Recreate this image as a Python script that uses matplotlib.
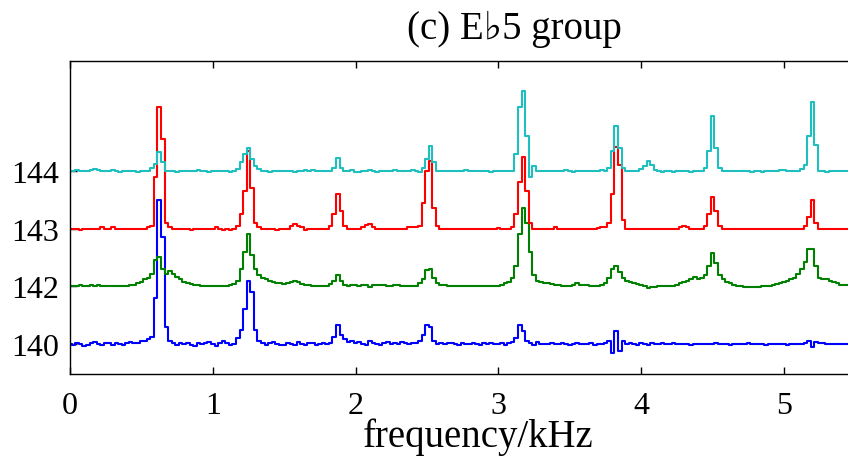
import numpy as np
import matplotlib
matplotlib.use("Agg")
import matplotlib.pyplot as plt

df = 0.025

blue = [0.00, -0.02, 0.01, 0.00, -0.03, -0.02, 0.02, 0.03, 0.00, -0.02,
        0.01, 0.02, -0.01, 0.02, 0.00, -0.02, 0.01, 0.03, 0.01, 0.02,
        0.06, 0.05, 0.08, 0.12, 0.80, 2.50, 1.85, 0.30, 0.05, 0.02,
        -0.01, 0.02, 0.00, 0.01, -0.01, -0.03, 0.01, 0.00, 0.02, 0.04,
        0.00, -0.03, 0.01, 0.05, 0.02, -0.02, 0.00, 0.10, 0.25, 0.60,
        1.10, 0.90, 0.25, 0.05, 0.02, -0.01, 0.01, 0.03, 0.00, -0.02,
        -0.02, 0.01, 0.00, -0.01, 0.03, 0.00, -0.02, 0.01, 0.02, -0.01,
        0.00, 0.01, 0.00, 0.02, 0.12, 0.33, 0.15, 0.08, 0.04, 0.06,
        0.01, 0.04, 0.00, -0.02, 0.05, 0.02, 0.00, -0.01, 0.01, 0.03,
        0.00, 0.02, 0.00, 0.03, 0.02, 0.00, 0.01, 0.02, 0.05, 0.15,
        0.33, 0.30, 0.05, 0.00, 0.01, 0.00, 0.02, 0.01, 0.00, -0.01,
        0.01, 0.00, 0.00, 0.01, 0.00, -0.01, 0.02, 0.00, 0.01, 0.00,
        0.00, 0.02, -0.01, 0.01, 0.03, 0.10, 0.33, 0.22, 0.05, 0.02,
        -0.01, 0.03, 0.00, 0.00, 0.00, 0.01, 0.00, 0.00, 0.01, 0.00,
        -0.01, 0.00, 0.02, 0.00, 0.00, 0.00, 0.01, -0.01, 0.00, 0.00,
        0.02, 0.05, -0.15, 0.22, -0.12, 0.05, 0.00, 0.01, 0.00, -0.02,
        0.01, 0.00, -0.02, 0.01, 0.00, 0.00, 0.02, 0.00, 0.00, 0.01,
        0.00, 0.00, 0.00, 0.00, -0.01, 0.00, 0.00, 0.00, 0.00, 0.00,
        0.00, 0.01, 0.00, 0.00, 0.00, -0.01, 0.00, 0.00, 0.00, 0.00,
        0.01, 0.00, 0.00, 0.00, 0.00, -0.01, 0.00, 0.00, 0.00, 0.00,
        0.00, -0.01, 0.00, 0.00, 0.00, 0.00, 0.01, 0.06, -0.06, 0.03,
        0.01, 0.02, 0.00, 0.00, 0.00, 0.00, 0.00, 0.00, 0.00, 0.00]

green = [0.00, 0.00, 0.00, 0.02, 0.00, 0.01, 0.03, 0.00, 0.02, 0.01,
         0.00, 0.00, 0.00, 0.00, 0.00, 0.00, 0.00, 0.02, 0.03, 0.05,
         0.08, 0.12, 0.15, 0.22, 0.45, 0.50, 0.30, 0.22, 0.26, 0.22,
         0.16, 0.12, 0.08, 0.06, 0.04, 0.02, 0.03, 0.01, 0.00, 0.01,
         0.00, 0.00, 0.00, 0.00, 0.00, 0.02, 0.04, 0.10, 0.30, 0.60,
         0.90, 0.55, 0.30, 0.20, 0.15, 0.12, 0.10, 0.08, 0.06, 0.06,
         0.04, 0.05, 0.08, 0.10, 0.07, 0.04, 0.03, 0.02, 0.01, 0.01,
         0.00, 0.01, 0.00, 0.04, 0.10, 0.19, 0.10, 0.03, 0.00, 0.02,
         0.03, 0.01, 0.02, 0.02, -0.01, 0.03, 0.03, 0.02, 0.02, 0.01,
         0.01, 0.02, 0.02, 0.01, 0.00, 0.00, 0.00, 0.01, 0.05, 0.12,
         0.28, 0.30, 0.15, 0.06, 0.03, 0.02, 0.01, 0.01, 0.00, 0.00,
         0.00, 0.00, 0.00, 0.00, 0.00, 0.00, 0.00, 0.00, 0.00, 0.00,
         0.01, 0.03, 0.05, 0.08, 0.15, 0.35, 0.90, 1.35, 1.10, 0.60,
         0.20, 0.10, 0.07, 0.05, 0.05, 0.04, 0.03, 0.02, 0.01, 0.00,
         0.00, 0.02, 0.05, 0.02, 0.03, 0.03, 0.00, 0.00, 0.00, 0.02,
         0.05, 0.15, 0.30, 0.36, 0.25, 0.15, 0.10, 0.08, 0.06, 0.04,
         0.02, 0.00, -0.03, -0.02, -0.02, 0.00, 0.00, 0.00, 0.01, 0.01,
         0.03, 0.05, 0.08, 0.10, 0.13, 0.16, 0.12, 0.15, 0.20, 0.35,
         0.57, 0.40, 0.20, 0.12, 0.08, 0.05, 0.03, 0.01, 0.00, -0.01,
         -0.01, -0.01, -0.02, -0.01, 0.00, 0.00, 0.01, 0.02, 0.04, 0.06,
         0.08, 0.10, 0.12, 0.15, 0.22, 0.30, 0.42, 0.64, 0.64, 0.35,
         0.15, 0.13, 0.12, 0.10, 0.07, 0.05, 0.03, 0.02, 0.02, 0.02]

red = [0.00, 0.00, -0.01, -0.02, 0.00, 0.00, -0.01, 0.00, 0.00, 0.02,
       0.00, 0.00, 0.02, -0.01, 0.00, 0.00, 0.00, -0.01, 0.00, 0.00,
       0.00, 0.00, 0.03, 0.05, 0.90, 2.10, 1.55, 0.10, 0.02, 0.00,
       -0.01, 0.00, 0.00, 0.00, -0.02, 0.00, 0.00, 0.00, 0.00, 0.00,
       0.00, 0.02, 0.00, -0.02, 0.00, -0.03, 0.00, 0.05, 0.25, 0.65,
       1.35, 0.70, 0.10, 0.02, 0.00, -0.01, 0.00, 0.00, -0.02, -0.01,
       0.00, 0.00, 0.05, 0.08, 0.05, 0.02, -0.02, 0.00, 0.00, 0.00,
       0.00, 0.00, 0.00, 0.05, 0.25, 0.60, 0.30, 0.05, 0.00, 0.00,
       0.00, 0.00, 0.02, 0.06, 0.08, 0.03, 0.00, 0.00, 0.00, 0.00,
       0.00, -0.01, 0.00, 0.00, 0.00, 0.02, 0.03, 0.02, 0.05, 0.45,
       1.00, 1.18, 0.35, 0.05, 0.00, 0.00, 0.00, -0.01, 0.00, 0.00,
       0.00, 0.00, 0.00, 0.00, -0.01, 0.00, 0.00, 0.00, 0.00, 0.00,
       0.01, 0.00, 0.00, 0.00, 0.02, 0.25, 0.80, 1.25, 0.65, 0.10,
       0.00, 0.00, 0.00, 0.00, 0.00, 0.00, 0.02, 0.00, -0.01, 0.00,
       0.00, 0.00, 0.00, 0.00, 0.00, -0.01, 0.00, 0.00, 0.01, 0.02,
       0.03, 0.10, 0.60, 1.42, 1.10, 0.15, 0.00, 0.00, 0.00, 0.00,
       0.00, 0.00, -0.01, 0.00, 0.00, 0.00, 0.00, 0.00, 0.00, 0.00,
       0.00, 0.02, 0.04, 0.02, -0.01, 0.00, 0.00, 0.00, 0.05, 0.25,
       0.55, 0.30, 0.05, 0.00, 0.00, 0.00, -0.01, 0.00, 0.00, 0.00,
       0.00, -0.01, 0.00, 0.00, 0.00, 0.00, 0.00, 0.00, 0.00, 0.00,
       0.00, 0.00, 0.00, 0.00, 0.00, 0.00, 0.05, 0.20, 0.49, 0.10,
       0.00, 0.00, -0.01, 0.00, 0.00, 0.00, 0.00, 0.00, 0.00, 0.00]

cyan = [0.00, 0.00, 0.01, 0.00, 0.00, 0.00, 0.02, 0.03, 0.02, 0.00,
        0.00, 0.00, 0.02, 0.00, -0.01, 0.00, 0.00, 0.00, 0.00, -0.01,
        0.00, 0.00, 0.00, 0.05, 0.12, 0.32, 0.15, 0.00, 0.00, 0.00,
        -0.01, 0.00, 0.00, 0.00, 0.00, 0.00, 0.01, 0.00, 0.00, -0.01,
        0.00, 0.00, 0.00, 0.00, 0.00, -0.01, 0.00, 0.03, 0.15, 0.30,
        0.40, 0.20, 0.08, 0.03, 0.00, 0.00, -0.01, 0.00, 0.00, 0.00,
        0.00, 0.00, 0.00, -0.01, 0.00, 0.00, 0.01, 0.00, 0.02, 0.00,
        0.00, 0.00, 0.00, 0.00, 0.05, 0.22, 0.05, 0.00, 0.00, 0.01,
        -0.01, -0.02, 0.00, 0.00, 0.01, 0.00, -0.01, 0.00, 0.00, 0.00,
        0.00, 0.01, 0.00, 0.00, 0.00, 0.00, 0.01, 0.00, -0.01, 0.05,
        0.20, 0.43, 0.15, 0.00, 0.00, 0.00, 0.00, 0.00, 0.00, 0.00,
        0.00, 0.01, 0.00, 0.00, 0.00, 0.00, 0.00, 0.00, -0.01, 0.00,
        0.00, 0.00, 0.00, 0.00, 0.00, 0.30, 1.10, 1.39, 0.60, -0.10,
        0.08, 0.00, 0.00, 0.00, 0.00, 0.00, 0.00, 0.00, 0.00, 0.01,
        0.00, -0.01, 0.00, 0.00, 0.00, 0.00, 0.00, 0.00, 0.00, 0.01,
        0.00, 0.05, 0.35, 0.78, 0.40, 0.05, 0.00, 0.00, 0.00, 0.00,
        0.03, 0.08, 0.18, 0.10, 0.02, 0.00, -0.01, 0.00, 0.00, -0.01,
        0.00, 0.00, 0.00, 0.00, -0.01, 0.00, 0.00, 0.00, 0.05, 0.35,
        0.95, 0.40, 0.05, 0.00, 0.00, 0.00, 0.00, 0.00, 0.00, 0.00,
        0.00, -0.01, 0.00, 0.00, -0.01, 0.00, 0.00, 0.00, 0.00, 0.01,
        0.02, 0.00, 0.00, 0.00, 0.00, 0.04, 0.10, 0.60, 1.20, 0.45,
        0.00, 0.00, -0.01, 0.00, 0.00, 0.00, 0.00, 0.00, 0.00, 0.00]

series = [blue, green, red, cyan]
colors = ["#0000ff", "#008000", "#ff0000", "#1fbfbf"]
row_labels = ["140", "142", "143", "144"]
xticks = [0, 1, 2, 3, 4, 5]

plt.rcParams['font.family'] = ['Liberation Serif', 'DejaVu Serif']

fig = plt.figure(figsize=(8.48, 4.6), dpi=100)
ax = fig.add_axes([70/848, 1 - 375/460, 778/848, 313/460])

for k in range(len(series)):
    y = np.array(series[k]) + k  #each spectrum sits one row higher
    f = np.arange(len(y)) * df
    ax.step(f, y, where='mid', color=colors[k], lw=1.5)

ax.set_xlim(0, 778/142.8)
ax.set_ylim(-0.52, 4.906)
ax.set_xticks(xticks)
ax.set_yticks(range(len(row_labels)))
ax.set_yticklabels(row_labels)
ax.tick_params(direction='in', length=5, width=1.0, labelsize=23, top=True)
ax.tick_params(axis='x', pad=12)
ax.tick_params(axis='y', pad=8)
ax.spines['right'].set_visible(False)
for s in ['left', 'top', 'bottom']:
    ax.spines[s].set_linewidth(1.0)

ax.set_xlabel("frequency/kHz", fontsize=28)
ax.xaxis.set_label_coords(408/778, -0.14)
fig.text(514/848, 1 - 29/460, "(c) E\u266d5 group", fontsize=28, ha='center', va='center')

fig.savefig("out.png", dpi=100)
